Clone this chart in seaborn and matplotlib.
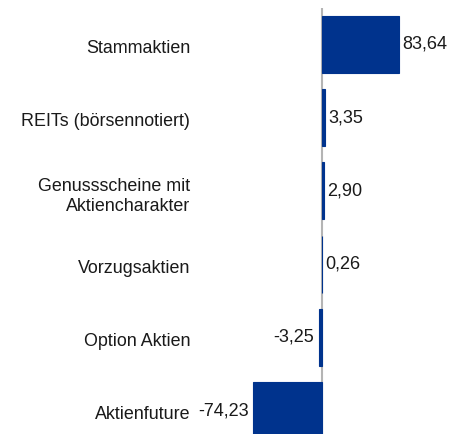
import matplotlib
matplotlib.use("Agg")
import matplotlib.pyplot as plt
import matplotlib.transforms as mtransforms
import seaborn as sns

# Data
categories = ["Stammaktien", "REITs (börsennotiert)", "Genussscheine mit\nAktiencharakter",
              "Vorzugsaktien", "Option Aktien", "Aktienfuture"]
values = [83.64, 3.35, 2.90, 0.26, -3.25, -74.23]

sns.set_theme(style="white")
plt.rcParams["font.family"] = ["Liberation Sans", "DejaVu Sans"]

fig = plt.figure(figsize=(4.65, 4.34), dpi=100)
# axes: left edge at 200px, top at 8px, down to the bottom of the figure
ax = fig.add_axes([200 / 465, 0, 265 / 465, 426 / 434])

bar_color = "#00338D"
sns.barplot(x=values, y=categories, orient="h", color=bar_color, saturation=1,
            width=0.778, linewidth=0.8, edgecolor=bar_color, ax=ax)

ax.set_xlim(-131.3, 154.6)
ax.set_ylim(5.317, -0.495)
ax.axvline(0, color="#b4b4b4", lw=1.5, zorder=0)

# text sits a touch below the bar centre in the original
shift = mtransforms.ScaledTranslation(0, -2 / 100, fig.dpi_scale_trans)

labels = [f"{v:.2f}".replace(".", ",") for v in values]
pos_labels = [l if v >= 0 else "" for l, v in zip(labels, values)]
neg_labels = [l if v < 0 else "" for l, v in zip(labels, values)]
txts = ax.bar_label(ax.containers[0], labels=pos_labels, padding=2.2, fontsize=13, color="#1a1a1a")
txts += ax.bar_label(ax.containers[0], labels=neg_labels, padding=3.2, fontsize=13, color="#1a1a1a")
for t in txts:
    t.set_transform(t.get_transform() + shift)

ax.set_xlabel("")
ax.set_ylabel("")
ax.set_xticks([])
ax.tick_params(axis="y", length=0, pad=7.2, labelsize=12.9, labelcolor="#1a1a1a")
for t in ax.get_yticklabels():
    t.set_linespacing(1.25)
    t.set_transform(t.get_transform() + shift)
sns.despine(ax=ax, left=True, bottom=True)

fig.savefig("out.png", dpi=100)
